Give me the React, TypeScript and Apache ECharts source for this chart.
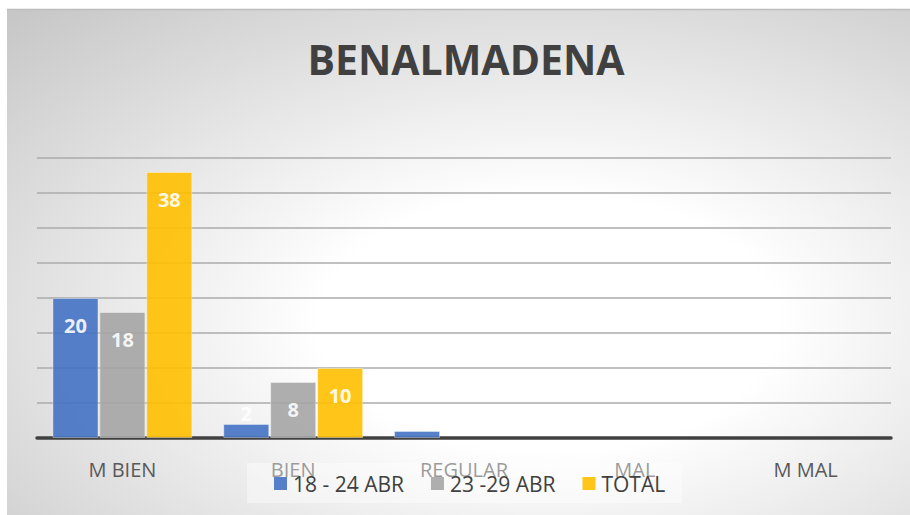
import React, { useEffect, useRef } from "react";
import * as echarts from "echarts";

const categories = ["M BIEN", "BIEN", "REGULAR", "MAL", "M MAL"];
const seriesNames = ["18 - 24 ABR", "23 -29 ABR", "TOTAL"];
const week1 = [20, 2, 1, 0, 0];
const week2 = [18, 8, 0, 0, 0];
const total = [38, 10, 0, 0, 0];
const colors = ["#4472C4", "#A5A5A5", "#FFC000"];
const titleText = "BENALMADENA";

const FONT = "'Open Sans', 'Noto Sans', sans-serif";

export default function App() {
  const ref = useRef<HTMLDivElement>(null);
  useEffect(() => {
    if (!ref.current) return;
    const chart = echarts.init(ref.current, null, { renderer: "svg" });
    const makeData = (arr: number[]) =>
      arr.map((v) => ({
        value: v,
        itemStyle: { borderWidth: v > 0 ? 1 : 0 },
        label: {
          show: v > 1,
          position: v * 7 < 30 ? "top" : "insideTop",
          distance: v * 7 < 30 ? 1 : 17,
        },
      }));
    const seriesData = [week1, week2, total];
    chart.setOption({
      animation: false,
      title: {
        text: titleText,
        left: 461,
        top: 33,
        textAlign: "center",
        textStyle: {
          fontFamily: FONT,
          fontWeight: "bold",
          fontSize: 41,
          color: "#404040",
        },
      },
      graphic: [
        {
          type: "rect",
          z: -10,
          silent: true,
          shape: { x: 7, y: 9, width: 903, height: 506 },
          style: {
            fill: new echarts.graphic.RadialGradient(0.6, 0.62, 0.9, [
              { offset: 0, color: "#ffffff" },
              { offset: 0.28, color: "#ffffff" },
              { offset: 1, color: "#c2c2c2" },
            ]),
          },
        },
        {
          type: "line",
          z: -9,
          silent: true,
          shape: { x1: 7, y1: 9.5, x2: 910, y2: 9.5 },
          style: { stroke: "#bdbdbd", lineWidth: 1.5 },
        },
        {
          type: "rect",
          z: 50,
          silent: true,
          shape: { x: 247, y: 463, width: 435, height: 40 },
          style: { fill: "rgba(255,255,255,0.4)" },
        },
      ],
      legend: {
        data: seriesNames,
        left: 274,
        top: 473,
        padding: 0,
        z: 60,
        icon: "rect",
        itemWidth: 13,
        itemHeight: 13,
        itemGap: 27,
        textStyle: {
          fontFamily: FONT,
          fontSize: 21,
          color: "#404040",
          padding: [0, 0, 0, 1],
        },
      },
      grid: { left: 37, right: 19, top: 158, bottom: 77, containLabel: false },
      xAxis: {
        type: "category",
        data: categories,
        axisLine: { lineStyle: { color: "#404040", width: 3.5 } },
        axisTick: { show: false },
        axisLabel: {
          fontFamily: FONT,
          fontSize: 20,
          color: "#595959",
          margin: 21,
        },
      },
      yAxis: {
        type: "value",
        min: 0,
        max: 40,
        interval: 5,
        axisLabel: { show: false },
        axisLine: { show: false },
        axisTick: { show: false },
        splitLine: { lineStyle: { color: "#ababab", width: 1.5 } },
      },
      series: seriesNames.map((name, i) => ({
        name,
        type: "bar",
        barWidth: 46,
        barGap: "2%",
        data: makeData(seriesData[i]),
        itemStyle: {
          color: colors[i],
          opacity: 0.9,
          borderColor: "rgba(255,255,255,0.4)",
        },
        label: {
          color: "#ffffff",
          fontFamily: FONT,
          fontWeight: "bold",
          fontSize: 20,
        },
      })),
    });
    return () => chart.dispose();
  }, []);
  return (
    <div
      style={{
        position: "fixed",
        left: 0,
        top: 0,
        width: 910,
        height: 515,
        background: "#ffffff",
      }}
    >
      <div ref={ref} style={{ width: 910, height: 515 }} />
    </div>
  );
}
